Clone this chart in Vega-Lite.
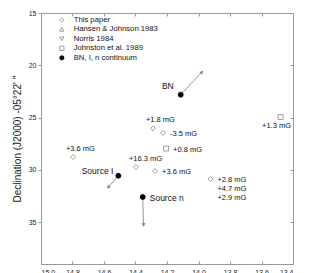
{
  "$schema": "https://vega.github.io/schema/vega-lite/v6.json",
  "width": 252,
  "height": 251,
  "autosize": {"type": "none"},
  "padding": {"left": 41, "top": 13, "right": 19, "bottom": 9},
  "background": "white",
  "config": {
    "font": "Liberation Sans",
    "view": {"stroke": null},
    "axis": {"grid": false, "domainColor": "#999999", "tickColor": "#999999", "labelColor": "#222222", "labelFont": "Liberation Sans", "labelFontSize": 7, "tickWidth": 1, "domainWidth": 1}
  },
  "datasets": {
    "pts": [
      {"source": "This paper", "ra": 14.797, "dec": 28.77, "label": "+3.6 mG", "side": "above"},
      {"source": "This paper", "ra": 14.289, "dec": 26.04, "label": "+1.8 mG", "side": "above"},
      {"source": "This paper", "ra": 14.225, "dec": 26.47, "label": "-3.5 mG", "side": "right"},
      {"source": "Johnston et al. 1989", "ra": 14.206, "dec": 27.96, "label": "+0.8 mG", "side": "right"},
      {"source": "This paper", "ra": 14.397, "dec": 29.73, "label": "+16.3 mG", "side": "above"},
      {"source": "This paper", "ra": 14.276, "dec": 30.11, "label": "+3.6 mG", "side": "right"},
      {"source": "This paper", "ra": 13.924, "dec": 30.87, "label": "+2.8 mG\n+4.7 mG\n+2.9 mG", "side": "right"},
      {"source": "Johnston et al. 1989", "ra": 13.479, "dec": 24.94, "label": "+1.3 mG", "side": "below"},
      {"source": "BN, I, n continuum", "ra": 14.113, "dec": 22.81, "label": "BN", "side": "upleft"},
      {"source": "BN, I, n continuum", "ra": 14.509, "dec": 30.56, "label": "Source I", "side": "left"},
      {"source": "BN, I, n continuum", "ra": 14.354, "dec": 32.59, "label": "Source n", "side": "right"}
    ],
    "arrows": [
      {"name": "BN", "ra": 14.113, "dec": 22.81, "ra2": 13.978, "dec2": 20.64, "pa": 43},
      {"name": "Source I", "ra": 14.509, "dec": 30.56, "ra2": 14.573, "dec2": 31.67, "pa": 221},
      {"name": "Source n", "ra": 14.354, "dec": 32.59, "ra2": 14.349, "dec2": 35.27, "pa": 178}
    ]
  },
  "resolve": {"axis": {"x": "independent", "y": "independent"}},
  "layer": [
    {
      "data": {"name": "arrows"},
      "mark": {"type": "rule", "color": "#8a8a8a", "strokeWidth": 0.9},
      "encoding": {
        "x": {"field": "ra", "type": "quantitative", "scale": {"domain": [13.4, 15.0], "reverse": true, "nice": false, "zero": false}, "axis": null},
        "y": {"field": "dec", "type": "quantitative", "scale": {"domain": [15, 39], "reverse": true, "nice": false, "zero": false}, "axis": null},
        "x2": {"field": "ra2"},
        "y2": {"field": "dec2"}
      }
    },
    {
      "data": {"name": "arrows"},
      "mark": {"type": "point", "shape": "triangle-up", "filled": true, "color": "#8a8a8a", "size": 18, "opacity": 1},
      "encoding": {
        "x": {"field": "ra2", "type": "quantitative", "axis": null},
        "y": {"field": "dec2", "type": "quantitative", "axis": null},
        "angle": {"field": "pa", "type": "quantitative", "scale": null}
      }
    },
    {
      "data": {"name": "arrows"},
      "mark": {"type": "point", "opacity": 0, "size": 0, "fillOpacity": 0, "strokeOpacity": 0},
      "encoding": {
        "x": {"field": "ra", "type": "quantitative", "axis": {"orient": "top", "values": [14.8, 14.6, 14.4, 14.2, 14.0, 13.8, 13.6], "labels": false, "tickSize": -3, "title": null}},
        "y": {"field": "dec", "type": "quantitative", "axis": {"orient": "right", "values": [20, 25, 30, 35], "labels": false, "tickSize": -3, "title": null}}
      }
    },
    {
      "data": {"name": "pts"},
      "mark": {"type": "point", "strokeWidth": 0.8, "opacity": 1, "size": 25},
      "encoding": {
        "x": {"field": "ra", "type": "quantitative", "axis": {"orient": "bottom", "values": [15.0, 14.8, 14.6, 14.4, 14.2, 14.0, 13.8, 13.6, 13.4], "format": ".1f", "tickSize": -3, "labelPadding": 7, "title": null}},
        "y": {"field": "dec", "type": "quantitative", "axis": {"orient": "left", "values": [15, 20, 25, 30, 35], "tickSize": 3, "labelPadding": 2, "title": "Declination (J2000)    -05°22'   ''", "titleFontSize": 10, "titleFontWeight": "normal", "titleColor": "#222222", "titlePadding": 6, "titleFont": "Liberation Sans"}},
        "shape": {"field": "source", "type": "nominal", "scale": {"domain": ["This paper", "Hansen & Johnson 1983", " Norris 1984", "Johnston et al. 1989", "BN, I, n continuum"], "range": ["diamond", "triangle-up", "triangle-down", "square", "circle"]},
          "legend": {"orient": "none", "legendX": 17, "legendY": 3, "title": null, "labelFontSize": 7.7, "labelColor": "#111111", "symbolSize": 18, "symbolStrokeWidth": 0.8, "rowPadding": 0.5, "labelOffset": 8, "padding": 0}},
        "stroke": {"field": "source", "type": "nominal", "scale": {"domain": ["This paper", "Hansen & Johnson 1983", " Norris 1984", "Johnston et al. 1989", "BN, I, n continuum"], "range": ["#888888", "#888888", "#888888", "#888888", "#000000"]}},
        "fill": {"field": "source", "type": "nominal", "scale": {"domain": ["This paper", "Hansen & Johnson 1983", " Norris 1984", "Johnston et al. 1989", "BN, I, n continuum"], "range": ["#ffffff", "#ffffff", "#ffffff", "#ffffff", "#000000"]}}
      }
    },
    {
      "data": {"name": "pts"},
      "transform": [{"filter": "datum.side === 'above'"}],
      "mark": {"type": "text", "align": "left", "baseline": "middle", "dx": -7, "dy": -8.5, "fontSize": 7.5, "fill": "#111111"},
      "encoding": {
        "x": {"field": "ra", "type": "quantitative", "axis": null},
        "y": {"field": "dec", "type": "quantitative", "axis": null},
        "text": {"field": "label"}
      }
    },
    {
      "data": {"name": "pts"},
      "transform": [{"filter": "datum.side === 'right'"}],
      "mark": {"type": "text", "align": "left", "baseline": "middle", "dx": 7, "dy": 1, "lineBreak": "\n", "lineHeight": 9, "fill": "#111111"},
      "encoding": {
        "x": {"field": "ra", "type": "quantitative", "axis": null},
        "y": {"field": "dec", "type": "quantitative", "axis": null},
        "text": {"field": "label"},
        "size": {"condition": {"test": "datum.source === 'BN, I, n continuum'", "value": 8.5}, "value": 7.5}
      }
    },
    {
      "data": {"name": "pts"},
      "transform": [{"filter": "datum.side === 'below'"}],
      "mark": {"type": "text", "align": "center", "baseline": "middle", "dx": -4, "dy": 9, "fontSize": 7.5, "fill": "#111111"},
      "encoding": {
        "x": {"field": "ra", "type": "quantitative", "axis": null},
        "y": {"field": "dec", "type": "quantitative", "axis": null},
        "text": {"field": "label"}
      }
    },
    {
      "data": {"name": "pts"},
      "transform": [{"filter": "datum.side === 'upleft'"}],
      "mark": {"type": "text", "align": "right", "baseline": "middle", "dx": -7, "dy": -9, "fontSize": 8.5, "fill": "#111111"},
      "encoding": {
        "x": {"field": "ra", "type": "quantitative", "axis": null},
        "y": {"field": "dec", "type": "quantitative", "axis": null},
        "text": {"field": "label"}
      }
    },
    {
      "data": {"name": "pts"},
      "transform": [{"filter": "datum.side === 'left'"}],
      "mark": {"type": "text", "align": "right", "baseline": "middle", "dx": -5, "dy": -5, "fontSize": 8.5, "fill": "#111111"},
      "encoding": {
        "x": {"field": "ra", "type": "quantitative", "axis": null},
        "y": {"field": "dec", "type": "quantitative", "axis": null},
        "text": {"field": "label"}
      }
    }
  ]
}
